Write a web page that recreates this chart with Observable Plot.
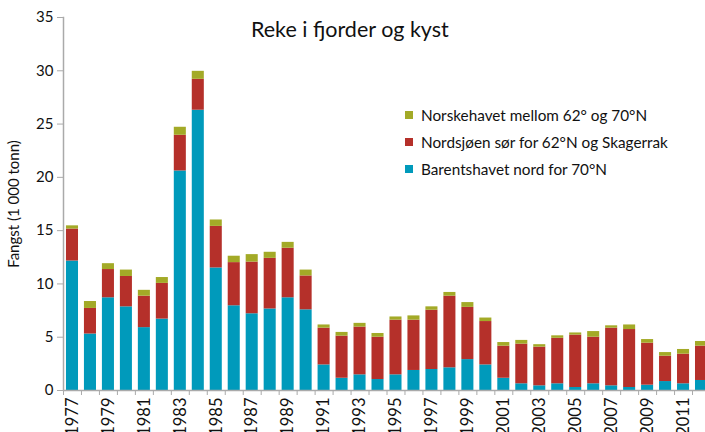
<!DOCTYPE html>
<html><head><meta charset="utf-8">
<script src="https://cdn.jsdelivr.net/npm/d3@7"></script>
<script src="https://cdn.jsdelivr.net/npm/@observablehq/plot@0.6"></script>
<style>
html,body{margin:0;padding:0;background:#fff;overflow:hidden}
#wrap{position:relative;width:705px;height:432px;font-family:Lato,"DejaVu Sans",sans-serif;color:#111}
#title{position:absolute;left:251px;top:17px;font-size:21.5px;line-height:24px;white-space:nowrap}
#legend{position:absolute;left:405px;top:101px;font-size:15.3px}
.row{display:flex;align-items:center;height:27px;white-space:nowrap}
.sw{width:8px;height:8px;margin-right:8px}
</style></head>
<body><div id="wrap"><div id="title"></div><div id="legend"></div></div>
<script>
const title = "Reke i fjorder og kyst";
const yLabel = "Fangst (1 000 tonn)";
const years = [1977,1978,1979,1980,1981,1982,1983,1984,1985,1986,1987,1988,1989,1990,1991,1992,1993,1994,1995,1996,1997,1998,1999,2000,2001,2002,2003,2004,2005,2006,2007,2008,2009,2010,2011,2012];
const labelYears = [1977,1979,1981,1983,1985,1987,1989,1991,1993,1995,1997,1999,2001,2003,2005,2007,2009,2011];
const yTicks = [0,5,10,15,20,25,30,35];
const series = ["Barentshavet nord for 70°N","Nordsjøen sør for 62°N og Skagerrak","Norskehavet mellom 62° og 70°N"];
const colors = ["#009ABB","#B5302A","#A3AA27"];
const barents =     [12.15,5.3,8.7,7.85,5.9,6.7,20.6,26.3,11.5,7.95,7.2,7.65,8.7,7.57,2.4,1.15,1.47,1.03,1.47,1.88,1.97,2.13,2.9,2.4,1.15,0.63,0.44,0.63,0.28,0.63,0.44,0.28,0.5,0.84,0.63,0.94];
const nordsjoen =   [3.0,2.4,2.65,2.85,2.95,3.35,3.35,2.9,3.9,4.05,4.85,4.75,4.65,3.18,3.45,3.95,4.48,3.97,5.13,4.72,5.56,6.72,4.9,4.07,3.01,3.72,3.63,4.27,4.92,4.37,5.41,5.44,3.94,2.38,2.78,3.22];
const norskehavet = [0.3,0.65,0.55,0.6,0.55,0.55,0.75,0.75,0.6,0.6,0.7,0.57,0.55,0.55,0.3,0.35,0.35,0.35,0.3,0.4,0.32,0.35,0.45,0.33,0.34,0.35,0.23,0.23,0.2,0.53,0.22,0.43,0.34,0.34,0.44,0.44];

const valuesBySeries = [barents, nordsjoen, norskehavet];
const rows = years.flatMap((yr, i) => series.map((s, k) => ({year: yr, series: s, value: valuesBySeries[k][i]})));

const W = 705, ML = 63, MR = -5;
const step = (W - MR - ML) / years.length;

const chart = Plot.plot({
  width: W, height: 432,
  marginLeft: ML, marginRight: MR, marginTop: 17, marginBottom: 42,
  style: {fontFamily: "Lato, 'DejaVu Sans', sans-serif", fontSize: "15px", color: "#111", background: "#fff", overflow: "visible"},
  x: {domain: years, paddingInner: 0.33, paddingOuter: 0.165},
  y: {domain: [0, 35]},
  color: {domain: series, range: colors},
  marks: [
    Plot.barY(rows, {x: "year", y: "value", fill: "series", order: series}),
    Plot.ruleY([0], {stroke: "#aaa", strokeWidth: 1.5}),
    Plot.frame({anchor: "left", stroke: "#aaa", strokeWidth: 1.5}),
    Plot.axisY({ticks: yTicks, tickSize: 6, tickPadding: 4, stroke: "#aaa", fill: "#111",
      label: yLabel, labelAnchor: "center", labelOffset: 55, labelArrow: "none", fontSize: 15}),
    Plot.axisX({ticks: years, tickSize: 5, tickFormat: () => "", dx: -step / 2, stroke: "#aaa", label: null}),
    Plot.axisX({ticks: labelYears, tickSize: 0, tickPadding: 7, tickRotate: -90, tickFormat: d => String(d), fill: "#111", label: null, fontSize: 16.5})
  ]
});
document.getElementById("wrap").appendChild(chart);
document.getElementById("title").textContent = title;
const lg = document.getElementById("legend");
[2,1,0].forEach(k => {
  const r = document.createElement("div"); r.className = "row";
  const sw = document.createElement("span"); sw.className = "sw"; sw.style.background = colors[k];
  const t = document.createElement("span"); t.textContent = series[k];
  r.appendChild(sw); r.appendChild(t); lg.appendChild(r);
});
</script>
</body></html>
